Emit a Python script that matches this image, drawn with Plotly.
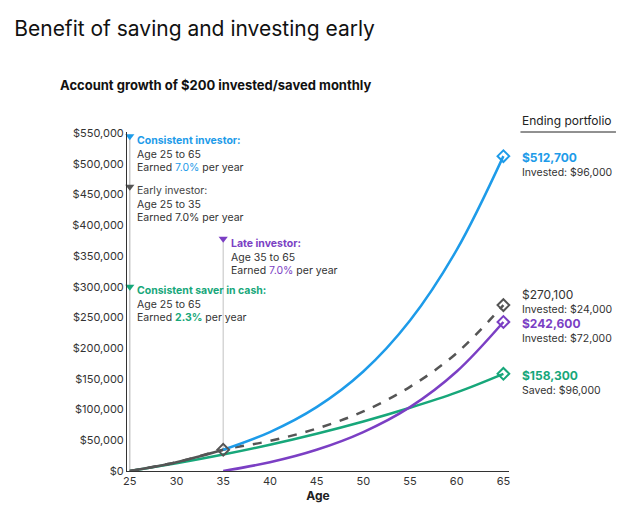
import plotly.graph_objects as go

ages = [25, 30, 35, 40, 45, 50, 55, 60, 65]
consistent = [0, 14300, 34600, 63400, 104000, 162000, 245000, 360000, 512700]
early_age = [25, 30, 35, 40, 45, 50, 55, 60, 65]
early = [0, 14300, 34600, 49000, 69000, 97000, 137000, 192000, 270100]
late_age = [35, 40, 45, 50, 55, 60, 65]
late = [0, 14300, 34600, 63400, 104000, 162000, 242600]
cash = [0, 12600, 26800, 42800, 60700, 80700, 103000, 128000, 158300]

BLUE = "#1d9be9"; GRAY = "#555555"; PURP = "#7b3fc4"; GREEN = "#17a77a"
fig = go.Figure()
fig.add_trace(go.Scatter(x=[25, 25], y=[0, 548000], mode="lines", line=dict(color="#bbbbbb", width=1.2), hoverinfo="skip"))
fig.add_trace(go.Scatter(x=[35, 35], y=[34600, 378000], mode="lines", line=dict(color="#cccccc", width=1.2), hoverinfo="skip"))
fig.add_trace(go.Scatter(x=ages, y=cash, mode="lines", line=dict(color=GREEN, width=2.5, shape="spline")))
fig.add_trace(go.Scatter(x=late_age, y=late, mode="lines", line=dict(color=PURP, width=2.5, shape="spline")))
fig.add_trace(go.Scatter(x=early_age, y=early, mode="lines", line=dict(color=GRAY, width=2.5, dash="dash", shape="spline")))
fig.add_trace(go.Scatter(x=ages[:3], y=consistent[:3], mode="lines", line=dict(color=GRAY, width=2.5, shape="spline")))
fig.add_trace(go.Scatter(x=ages[2:], y=consistent[2:], mode="lines", line=dict(color=BLUE, width=2.5, shape="spline")))
for x, y, c in [(65, consistent[-1], BLUE), (65, early[-1], GRAY), (65, late[-1], PURP), (65, cash[-1], GREEN), (35, 34600, GRAY)]:
    fig.add_trace(go.Scatter(x=[x], y=[y], mode="markers", cliponaxis=False,
                             marker=dict(symbol="diamond-open", size=9, color=c, line=dict(width=2, color=c))))
for x, y, c in [(25, 545000, BLUE), (25, 463000, GRAY), (25, 300000, GREEN), (35, 378000, PURP)]:
    fig.add_trace(go.Scatter(x=[x], y=[y], mode="markers", cliponaxis=False, marker=dict(symbol="triangle-down", size=8, color=c)))

F = "Inter"
def ann(x, y, text, xref="x"):
    fig.add_annotation(x=x, y=y, xref=xref, text=text, showarrow=False, xanchor="left", yanchor="top", align="left",
                       font=dict(family=F, size=10.5, color="#333"))

ann(25.6, 552000, f"<b><span style='color:{BLUE}'>Consistent investor:</span></b><br>Age 25 to 65<br>Earned <span style='color:{BLUE}'>7.0%</span> per year")
ann(25.6, 470000, f"<span style='color:#444'>Early investor:</span><br>Age 25 to 35<br>Earned 7.0% per year")
ann(25.6, 307000, f"<b><span style='color:{GREEN}'>Consistent saver in cash:</span></b><br>Age 25 to 65<br>Earned <b><span style='color:{GREEN}'>2.3%</span></b> per year")
ann(35.6, 385000, f"<b><span style='color:{PURP}'>Late investor:</span></b><br>Age 35 to 65<br>Earned <span style='color:{PURP}'>7.0%</span> per year")
ann(1.03, 526000, f"<b><span style='color:{BLUE};font-size:12px'>$512,700</span></b><br>Invested: $96,000", "paper")
ann(1.03, 303000, f"<span style='font-size:12px'>$270,100</span><br>Invested: $24,000", "paper")
ann(1.03, 256000, f"<b><span style='color:{PURP};font-size:12px'>$242,600</span></b><br>Invested: $72,000", "paper")
ann(1.03, 171000, f"<b><span style='color:{GREEN};font-size:12px'>$158,300</span></b><br>Saved: $96,000", "paper")

fig.add_annotation(xref="paper", yref="paper", x=1.275, y=1.005, text="Ending portfolio", showarrow=False,
                   xanchor="right", yanchor="bottom", font=dict(family=F, size=12, color="#222"))
fig.add_shape(type="line", xref="paper", yref="paper", x0=1.03, x1=1.28, y0=1.0, y1=1.0, line=dict(color="#222", width=1))

fig.update_layout(
    width=624, height=512, showlegend=False, plot_bgcolor="white", paper_bgcolor="white",
    margin=dict(l=119, r=123, t=124, b=49),
    title=dict(text="Benefit of saving and investing early", x=0.01, y=0.975, xanchor="left",
               font=dict(family=F, size=21, color="#111")),
    xaxis=dict(range=[24.7, 65.6], tickvals=list(range(25, 70, 5)), showgrid=False, showline=True, linecolor="#333",
               ticks="", tickfont=dict(family=F, size=11, color="#333"),
               title=dict(text="<b>Age</b>", font=dict(family=F, size=12, color="#222"), standoff=4)),
    yaxis=dict(range=[0, 552000], tickvals=list(range(0, 550001, 50000)), tickformat="$,.0f", showgrid=False,
               showline=True, linecolor="#333", ticks="", tickfont=dict(family=F, size=11, color="#333")),
)
fig.add_annotation(xref="paper", yref="paper", x=-0.18, y=1.11, text="<b>Account growth of $200 invested/saved monthly</b>",
                   showarrow=False, xanchor="left", yanchor="bottom", font=dict(family=F, size=13, color="#111"))
fig.write_html("out.html")
